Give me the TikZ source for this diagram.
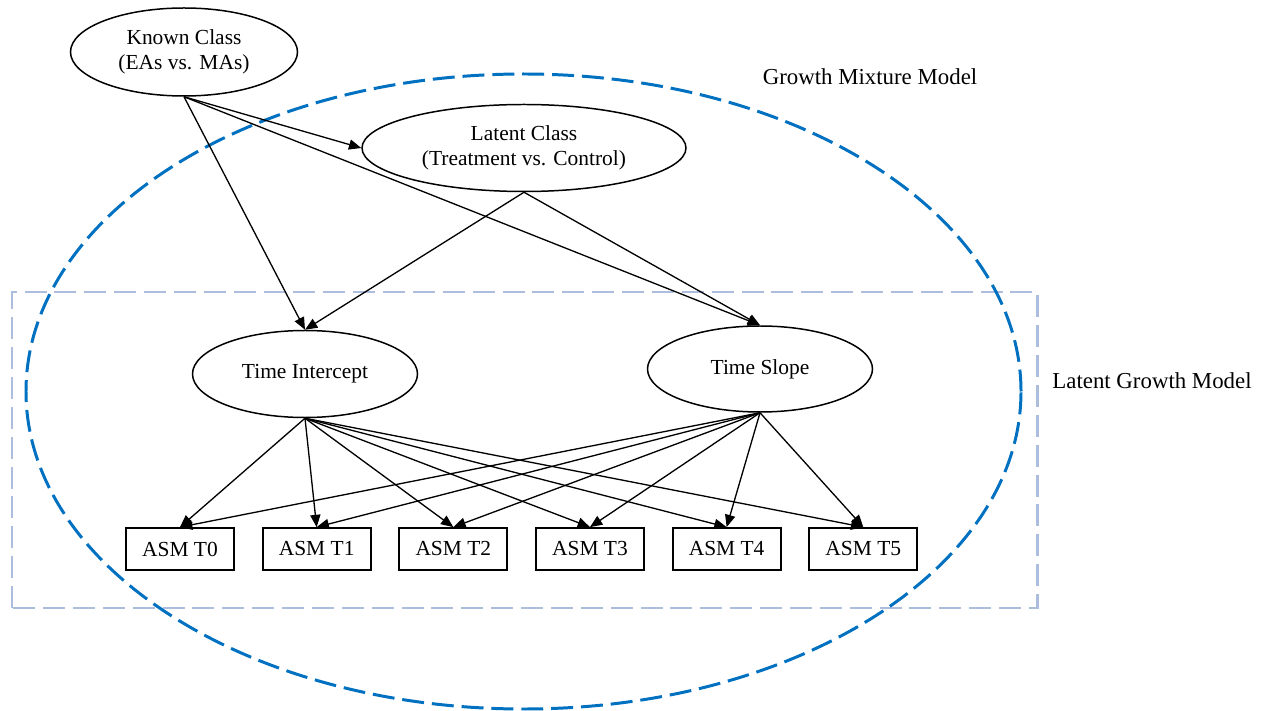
\documentclass[tikz,border=0pt]{standalone}
\usepackage{fontspec}
\setmainfont{Liberation Serif}
\usetikzlibrary{shapes.geometric,positioning,arrows.meta}

\definecolor{gmmblue}{RGB}{0,112,192}
\definecolor{lgmgray}{RGB}{172,189,222}

\begin{document}
\begin{tikzpicture}[auto, node distance=0.538cm, line width=0.75pt,
    >={Triangle[length=7pt,width=5.8pt]},
    latent/.style={draw, ellipse, line width=0.85pt, inner sep=0pt, align=center,
      font=\fontsize{12.2}{14}\selectfont},
    observed/.style={draw, rectangle, line width=1pt, minimum width=2.16cm,
      minimum height=0.84cm, inner sep=0pt, font=\fontsize{12.2}{14}\selectfont},
    frame/.style={dash pattern=on 12.5pt off 4.5pt, line width=1.7pt},
    tag/.style={font=\fontsize{13}{15}\selectfont}]
  \useasboundingbox (0,0) rectangle (25.5,14.2);

  % the two model frames
  \draw[frame, lgmgray] (0.24,2.04) rectangle (20.74,8.36);
  \draw[frame, gmmblue] (10.47,6.37) ellipse [x radius=9.95, y radius=6.35];
  \node[tag] (gmm) at (17.40,12.66) {Growth Mixture Model};
  \node[tag] (lgm) at (23.04,6.58) {Latent Growth Model};

  % classes and growth factors
  \node[latent, minimum width=4.54cm, minimum height=1.76cm] (known) at (3.68,13.16)
    {Known Class\\(EAs vs. MAs)};
  \node[latent, minimum width=6.48cm, minimum height=1.74cm] (lclass) at (10.48,11.24)
    {Latent Class\\(Treatment vs. Control)};
  \node[latent, minimum width=4.5cm, minimum height=1.74cm] (icept) at (6.10,6.72)
    {Time Intercept};
  \node[latent, minimum width=4.5cm, minimum height=1.72cm] (slope) at (15.20,6.82)
    {Time Slope};

  % repeated measures
  \node[observed] (t0) at (3.60,3.22) {ASM T0};
  \node[observed] (t1) [right=of t0] {ASM T1};
  \node[observed] (t2) [right=of t1] {ASM T2};
  \node[observed] (t3) [right=of t2] {ASM T3};
  \node[observed] (t4) [right=of t3] {ASM T4};
  \node[observed] (t5) [right=of t4] {ASM T5};

  \path[->]
    (known.south) edge (lclass.west)
    (known.south) edge (icept.north)
    (known.south) edge (slope.north)
    (lclass.south) edge (icept.north)
    (lclass.south) edge (slope.north);

  \path[->]
    (icept.south) edge (t0.north)
    (icept.south) edge (t1.north)
    (icept.south) edge (t2.north)
    (icept.south) edge (t3.north)
    (icept.south) edge (t4.north)
    (icept.south) edge (t5.north)
    (slope.south) edge (t0.north)
    (slope.south) edge (t1.north)
    (slope.south) edge (t2.north)
    (slope.south) edge (t3.north)
    (slope.south) edge (t4.north)
    (slope.south) edge (t5.north);
\end{tikzpicture}
\end{document}
